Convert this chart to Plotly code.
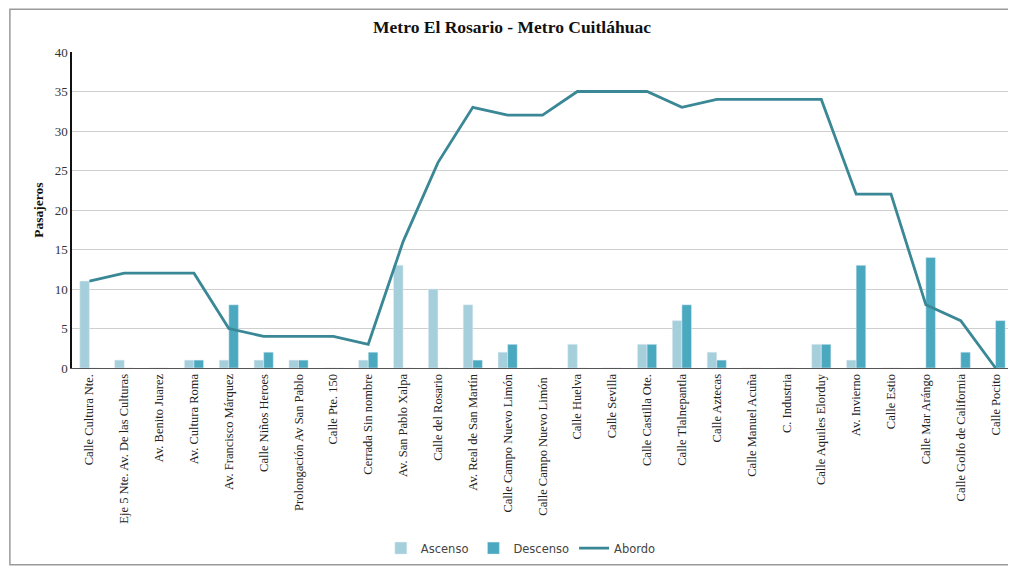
import plotly.graph_objects as go

categories = [
    "Calle Cultura Nte.", "Eje 5 Nte. Av. De las Culturas", "Av. Benito Juarez",
    "Av. Cultura Roma", "Av. Francisco Márquez", "Calle Niños Heroes",
    "Prolongación Av San Pablo", "Calle Pte. 150", "Cerrada Sin nombre",
    "Av. San Pablo Xalpa", "Calle del Rosario", "Av. Real de San Martín",
    "Calle Campo Nuevo Limón", "Calle Campo Nuevo Limón ", "Calle Huelva",
    "Calle Sevilla", "Calle Castilla Ote.", "Calle Tlalnepantla", "Calle Aztecas",
    "Calle Manuel Acuña", "C. Industria", "Calle Aquiles Elorduy", "Av. Invierno",
    "Calle Estio", "Calle Mar Arángo", "Calle Golfo de California", "Calle Pocito",
]
ascenso = [11, 1, 0, 1, 1, 1, 1, 0, 1, 13, 10, 8, 2, 0, 3, 0, 3, 6, 2, 0, 0, 3, 1, 0, 0, 0, 0]
descenso = [0, 0, 0, 1, 8, 2, 1, 0, 2, 0, 0, 1, 3, 0, 0, 0, 3, 8, 1, 0, 0, 3, 13, 0, 14, 2, 6]
abordo = [11, 12, 12, 12, 5, 4, 4, 4, 3, 16, 26, 33, 32, 32, 35, 35, 35, 33, 34, 34, 34, 34, 22, 22, 8, 6, 0]
y_ticks = [0, 5, 10, 15, 20, 25, 30, 35, 40]

serif = "Liberation Serif, Times New Roman, serif"

fig = go.Figure()
fig.add_trace(go.Bar(x=categories, y=ascenso, name="Ascenso", marker_color="#a6cfdc"))
fig.add_trace(go.Bar(x=categories, y=descenso, name="Descenso", marker_color="#4aa9bf"))
fig.add_trace(go.Scatter(x=categories, y=abordo, name="Abordo", mode="lines",
                         line=dict(color="#3a8796", width=2.8)))

fig.update_layout(
    width=1008, height=560,
    margin=dict(l=64, r=3, t=44, b=200),
    paper_bgcolor="white", plot_bgcolor="white",
    title=dict(text="<b>Metro El Rosario - Metro Cuitláhuac</b>", x=0.5, xanchor="center",
               y=0.966, yanchor="middle",
               font=dict(family=serif, size=17.5, color="#111")),
    barmode="group", bargap=0.45, bargroupgap=0.0,
    showlegend=True,
    legend=dict(orientation="h", x=0.477, xanchor="center", y=-0.57, yanchor="middle",
                bgcolor="rgba(0,0,0,0)",
                font=dict(family="DejaVu Sans, sans-serif", size=11.5, color="#444"),
                traceorder="normal"),
    xaxis=dict(tickangle=-90, tickfont=dict(family=serif, size=12.5, color="#222"),
               showline=True, linecolor="#555", linewidth=1, ticks="",
               showgrid=False),
    yaxis=dict(range=[0, 40], tickvals=y_ticks, tickfont=dict(family=serif, size=13, color="#333"),
               showline=True, linecolor="#111", linewidth=1.5,
               gridcolor="#cfcfcf", gridwidth=1, zeroline=False,
               title=dict(text="<b>Pasajeros</b>", font=dict(family=serif, size=13.5, color="#111"),
                          standoff=8)),
)

fig.add_shape(type="rect", xref="paper", yref="paper",
              x0=-0.066, x1=1.0, y0=-0.623, y1=1.135,
              line=dict(color="#9a9a9a", width=1.5), fillcolor="rgba(0,0,0,0)", layer="below")

fig.write_html("out.html")
